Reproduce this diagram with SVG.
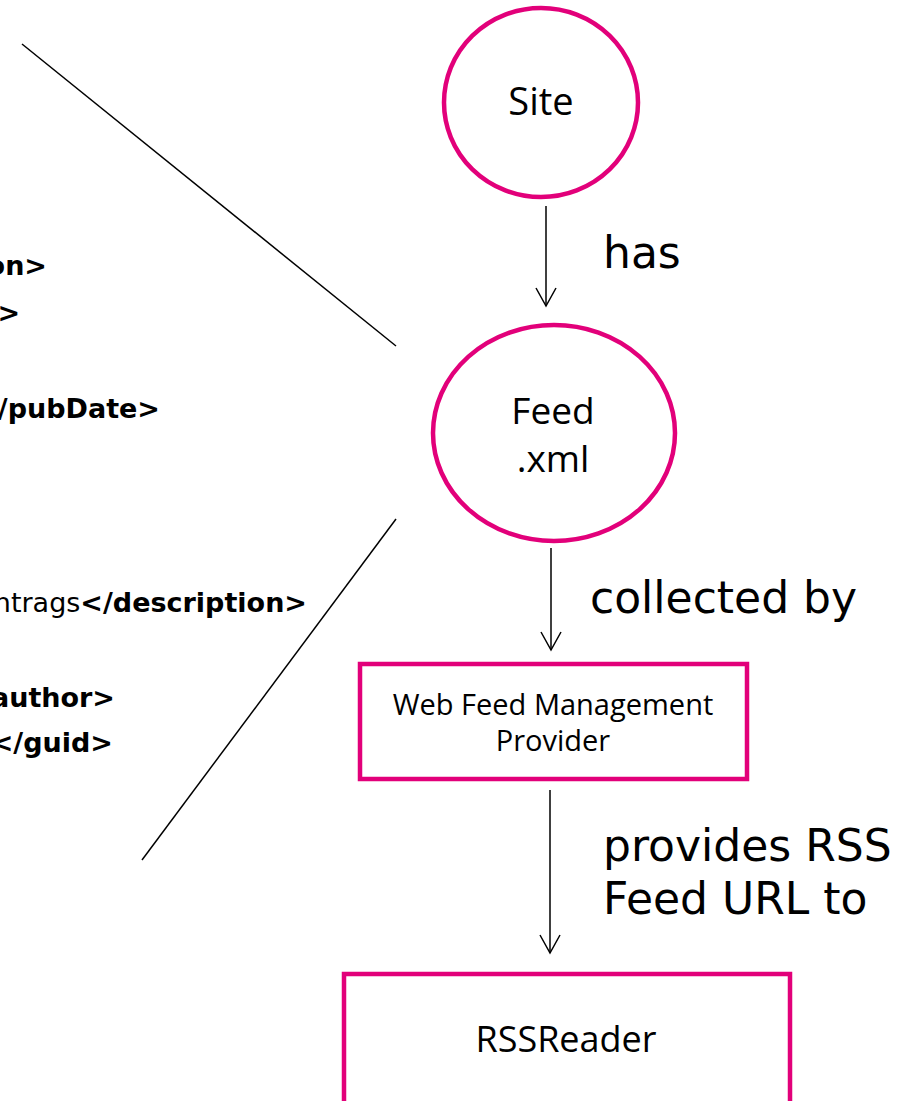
<svg xmlns="http://www.w3.org/2000/svg" width="905" height="1101" viewBox="0 0 905 1101">
<defs>
<style>
.node{fill:#fff;stroke:#E2007A;stroke-width:4.5}
.nt{font-family:"Open Sans","DejaVu Sans",sans-serif;fill:#000;text-anchor:middle}
.code{font-family:"DejaVu Sans",sans-serif;font-size:27px;font-weight:bold;fill:#000;text-anchor:end}
.reg{font-weight:normal}
.lbl{font-family:"DejaVu Sans",sans-serif;font-size:44px;fill:#000}
.conn{stroke:#000;stroke-width:1.5;fill:none}
</style>
<marker id="arr" markerWidth="24" markerHeight="24" refX="20" refY="11" orient="auto" markerUnits="userSpaceOnUse">
<path d="M2,1 L20,11 L2,21" fill="none" stroke="#000" stroke-width="1.5"/>
</marker>
</defs>
<rect width="905" height="1101" fill="#fff"/>
<g id="code-fragment">
<text class="code" x="47" y="275">on&gt;</text>
<text class="code" x="20" y="322">&gt;</text>
<text class="code" x="160" y="418">/pubDate&gt;</text>
<text class="code" x="307" y="612"><tspan class="reg">ntrags</tspan>&lt;/description&gt;</text>
<text class="code" x="115" y="707">author&gt;</text>
<text class="code" x="113" y="752">&lt;/guid&gt;</text>
</g>
<g id="connectors">
<line class="conn" x1="22" y1="44" x2="396" y2="346"/>
<line class="conn" x1="396" y1="519" x2="142" y2="860"/>
<line class="conn" x1="546" y1="206" x2="546" y2="306" marker-end="url(#arr)"/>
<line class="conn" x1="551" y1="548" x2="551" y2="650" marker-end="url(#arr)"/>
<line class="conn" x1="550" y1="790" x2="550" y2="953" marker-end="url(#arr)"/>
<text class="lbl" x="603" y="268">has</text>
<text class="lbl" x="590" y="613">collected by</text>
<text class="lbl" x="603" y="861">provides RSS</text>
<text class="lbl" x="603" y="914">Feed URL to</text>
</g>
<g id="site">
<ellipse class="node" cx="541" cy="102.5" rx="97" ry="94.5"/>
<text class="nt" x="541" y="115" font-size="38">Site</text>
</g>
<g id="feed">
<ellipse class="node" cx="554" cy="433" rx="121" ry="108"/>
<text class="nt" x="553" y="424" font-size="37">Feed</text>
<text class="nt" x="553" y="472" font-size="37">.xml</text>
</g>
<g id="wfmp">
<rect class="node" x="360" y="664" width="387" height="115"/>
<text class="nt" x="553" y="715" font-size="29">Web Feed Management</text>
<text class="nt" x="553" y="751" font-size="29">Provider</text>
</g>
<g id="rssreader">
<rect class="node" x="344" y="974" width="446" height="200"/>
<text class="nt" x="566" y="1052" font-size="36">RSSReader</text>
</g>
</svg>
